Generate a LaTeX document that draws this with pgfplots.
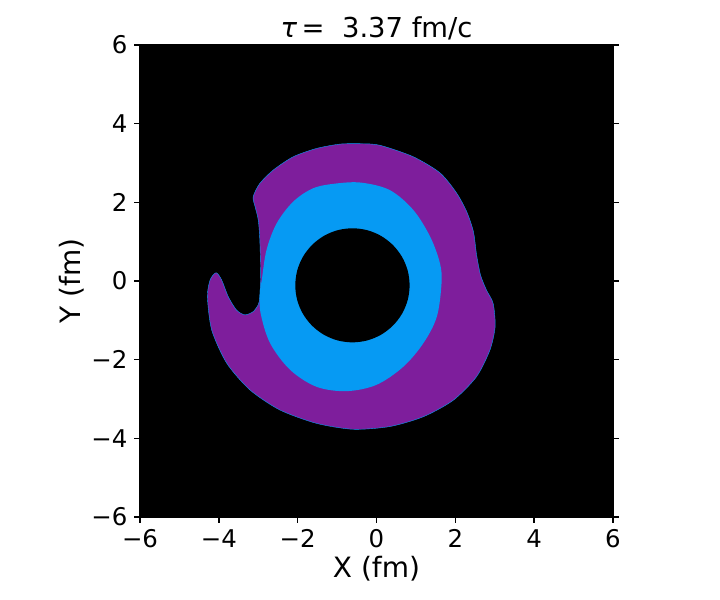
\documentclass[border=0pt]{standalone}
\usepackage{fontspec}
\setmainfont{DejaVu Sans}
\usepackage{pgfplots}
\pgfplotsset{compat=1.18}
\definecolor{xpurple}{HTML}{7E1E9C}
\definecolor{xazure}{HTML}{069AF3}
\begin{document}
\begin{tikzpicture}
\useasboundingbox (-70pt,-41.5pt) rectangle (290pt,258.5pt);
\begin{axis}[
  at={(0,0)}, anchor=south west,
  scale only axis, width=236.5pt, height=236pt,
  xmin=-6, xmax=6, ymin=-6, ymax=6,
  axis background/.style={fill=black},
  xtick={-6,-4,-2,0,2,4,6},
  ytick={-6,-4,-2,0,2,4,6},
  xticklabels={−6,−4,−2,0,2,4,6},
  yticklabels={−6,−4,−2,0,2,4,6},
  xtick pos=bottom, ytick pos=both, yticklabel pos=left,
  tick align=outside,
  major tick length=2.8pt,
  every tick/.style={black, line width=0.8pt},
  axis line style={line width=0.7pt},
  ticklabel style={font=\fontsize{12.2}{14}\selectfont},
  xlabel={X (fm)}, ylabel={Y (fm)},
  label style={font=\fontsize{14}{17}\selectfont},
  xlabel style={at={(axis description cs:0.5,-0.11)}, anchor=center},
  ylabel style={at={(axis description cs:-0.1448,0.5)}, anchor=center},
  title={\textit{τ}\,= \ 3.37 fm/c},
  title style={font=\fontsize{13.7}{16}\selectfont, at={(axis description cs:0.5,1)}, anchor=base, yshift=-2.2pt},
]
% outer purple region
\addplot[fill=xpurple, draw=xazure, line width=0.2pt, smooth cycle, tension=0.45] coordinates {
(-0.93,3.48) (-0.40,3.49) (0.09,3.45) (0.93,3.16) (1.61,2.75) (2.03,2.24) (2.29,1.76)
(2.46,1.25) (2.54,0.66) (2.64,0.15) (2.79,-0.23) (2.96,-0.57) (3.01,-1.16) (2.88,-1.75)
(2.54,-2.43) (1.95,-3.03) (1.19,-3.45) (0.34,-3.70) (-0.59,-3.77) (-1.52,-3.62)
(-2.45,-3.28) (-3.21,-2.77) (-3.80,-2.09) (-4.18,-1.25) (-4.29,-0.40) (-4.22,0.03)
(-4.07,0.21) (-3.93,0.03) (-3.76,-0.40) (-3.55,-0.74) (-3.34,-0.86) (-3.13,-0.78)
(-3.00,-0.60) (-2.96,-0.40) (-2.94,0.20) (-2.96,1.04) (-3.00,1.55) (-3.08,1.89)
(-3.13,2.14) (-2.96,2.48) (-2.62,2.82) (-2.11,3.16) (-1.52,3.37)
};
% blue region
\addplot[fill=xazure, draw=none, smooth cycle, tension=0.55] coordinates {
(-0.38,2.50) (0.34,2.31) (0.93,1.81) (1.36,1.13) (1.61,0.45) (1.65,-0.06) (1.53,-0.91)
(1.19,-1.58) (0.68,-2.18) (0.00,-2.64) (-0.76,-2.80) (-1.52,-2.69) (-2.19,-2.26)
(-2.70,-1.58) (-2.94,-0.82) (-2.96,-0.30) (-2.91,0.03) (-2.79,0.79) (-2.53,1.47)
(-2.11,2.02) (-1.60,2.36) (-1.01,2.48)
};
% inner black hole
\addplot[fill=black, draw=none, smooth cycle, tension=0.55] coordinates {
(0.840,-0.110) (0.791,0.266) (0.646,0.615) (0.415,0.915) (0.115,1.146) (-0.235,1.291)
(-0.610,1.340) (-0.986,1.291) (-1.335,1.146) (-1.635,0.915) (-1.866,0.615) (-2.011,0.266)
(-2.060,-0.110) (-2.011,-0.486) (-1.866,-0.835) (-1.635,-1.135) (-1.335,-1.366) (-0.986,-1.511)
(-0.610,-1.560) (-0.235,-1.511) (0.115,-1.366) (0.415,-1.135) (0.646,-0.835) (0.791,-0.486)
};
\end{axis}
\end{tikzpicture}
\end{document}
